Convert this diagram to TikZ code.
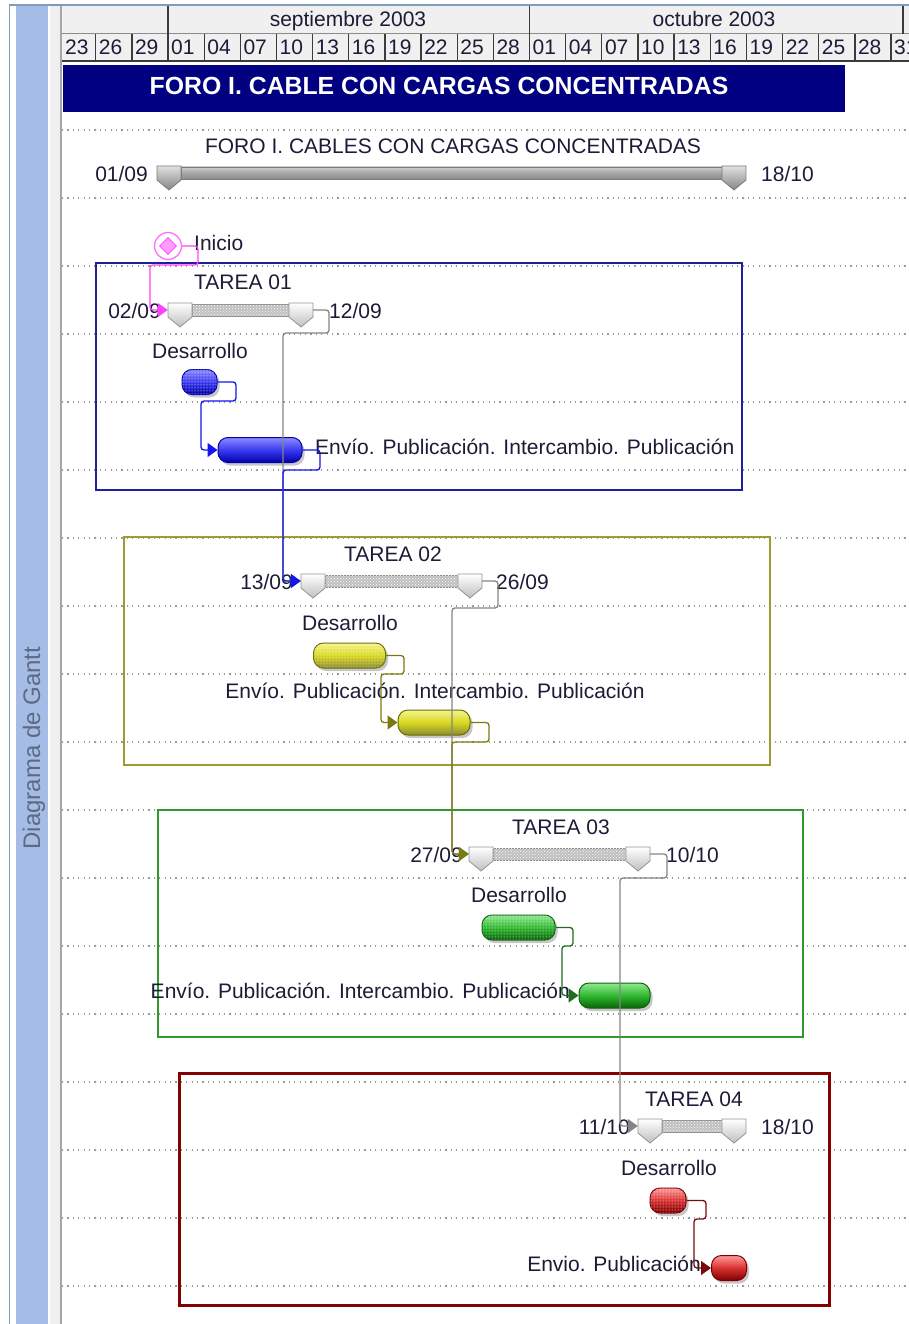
\documentclass[tikz,border=0pt]{standalone}
\usepackage{fontspec}
\setmainfont{Liberation Sans}
\usetikzlibrary{arrows.meta,shapes.geometric,patterns,shadows,fit}

% palette
\definecolor{ink}{HTML}{1C1C38}
\definecolor{frameblue}{HTML}{7F9DB9}
\definecolor{stripblue}{HTML}{A5BDE6}
\definecolor{panelgrey}{HTML}{EFEFEF}
\definecolor{hdrgrey}{HTML}{F0F0F0}
\definecolor{hdrline}{HTML}{3C3C3C}
\definecolor{navyband}{HTML}{000080}
\definecolor{dotgrey}{HTML}{9A9A9A}
\definecolor{linkgrey}{HTML}{858585}
\definecolor{vtitle}{HTML}{5C6B82}
\definecolor{capedge}{HTML}{7A7A7A}
\definecolor{bluedark}{HTML}{0000A8}
\definecolor{bluemid}{HTML}{3A3AF0}
\definecolor{bluelight}{HTML}{8C8CFF}
\definecolor{bluelink}{HTML}{1414F0}
\definecolor{blueframe}{HTML}{20209C}
\definecolor{yeldark}{HTML}{6E6E00}
\definecolor{yelmid}{HTML}{D8D820}
\definecolor{yellight}{HTML}{F4F490}
\definecolor{yellink}{HTML}{7A7A10}
\definecolor{yelframe}{HTML}{9C9C30}
\definecolor{grndark}{HTML}{0A640A}
\definecolor{grnmid}{HTML}{30B830}
\definecolor{grnlight}{HTML}{90E890}
\definecolor{grnlink}{HTML}{1E6E1E}
\definecolor{grnframe}{HTML}{2E9A2E}
\definecolor{reddark}{HTML}{7A0000}
\definecolor{redmid}{HTML}{D83030}
\definecolor{redlight}{HTML}{FF9A9A}
\definecolor{redlink}{HTML}{7A0A0A}
\definecolor{redframe}{HTML}{850000}
\definecolor{pinkline}{HTML}{FF40FF}
\definecolor{pinkfill}{HTML}{FF9CFF}

\tikzset{
  lbl/.style={font=\fontsize{21}{24}\selectfont, text=ink, inner sep=0pt, text height=15pt, text depth=0pt},
  rowline/.style={dotgrey, line width=1.2pt, dash pattern=on 1.2pt off 4.2pt},
  groupbox/.style={line width=1.6pt},
  gbar/.style={rounded corners=10pt, minimum height=25pt, inner sep=0pt, line width=1pt,
    drop shadow={shadow xshift=2.5pt, shadow yshift=-3pt, fill=black!40, opacity=0.55}},
  dotfill/.style={postaction={pattern=dots, pattern color=white}},
  bluebar/.style={draw=bluedark, top color=bluelight, bottom color=bluedark, middle color=bluemid},
  yelbar/.style={draw=yeldark, top color=yellight, bottom color=yeldark!80, middle color=yelmid},
  grnbar/.style={draw=grndark, top color=grnlight, bottom color=grndark, middle color=grnmid},
  redbar/.style={draw=reddark, top color=redlight, bottom color=reddark, middle color=redmid},
  conn/.style={line width=1.3pt, rounded corners=3pt, -{Triangle[length=10pt,width=14pt]}},
  sumcap/.style={draw=capedge, line width=0.8pt, top color=black!12, bottom color=black!48},
  sumbar/.style={draw=capedge, line width=0.8pt, top color=black!20, bottom color=black!45, middle color=black!35},
  taskcap/.style={draw=black!42, line width=0.8pt, top color=white, bottom color=black!25},
  taskbar/.style={draw=black!45, line width=0.8pt, fill=black!25, postaction={pattern=crosshatch dots, pattern color=white}},
}

% a span bar: name, start x, end x, row centre y, cap style, bar style
\newcommand\ganttspan[6]{%
  \path[#6] (#2+12,#4-6) rectangle (#3-12,#4+6);
  \path[#5] (#2-12,#4-7) -- (#2+12,#4-7) -- (#2+12,#4+7) -- (#2,#4+17) -- (#2-12,#4+7) -- cycle;
  \path[#5] (#3-12,#4-7) -- (#3+12,#4-7) -- (#3+12,#4+7) -- (#3,#4+17) -- (#3-12,#4+7) -- cycle;
  \node[inner sep=0pt, fit={(#2-12,#4-7) (#3+12,#4+7)}] (#1) {};
}

\begin{document}
\begin{tikzpicture}[x=1pt,y=-1pt]
\useasboundingbox (0,0) rectangle (909,1324);
\fill[white] (0,0) rectangle (909,1324);

% side panel
\fill[stripblue] (16,6) rectangle (48,1324);
\fill[panelgrey] (50,6) rectangle (60,1324);
\draw[frameblue, line width=1.5pt] (9.5,1324) -- (9.5,5) -- (909,5);
\draw[black!35, line width=1.8pt] (61,6) -- (61,1324);
\node[rotate=90, font=\fontsize{24}{28}\selectfont, text=vtitle] (side) at (34,748) {Diagrama de Gantt};

% time scale header (the last day column runs past the right edge)
\begin{scope}
\clip (62,6) rectangle (909,62);
\fill[hdrgrey] (62,6) rectangle (909,61);
\draw[black!45, line width=1pt] (62,33.5) -- (909,33.5);
\draw[hdrline, line width=1.6pt] (62,61) -- (909,61);
\foreach \x in {168,529.5,903} \draw[hdrline, line width=1.3pt] (\x,6) -- (\x,34);
\node[lbl] (msep) at (348,19.5) {septiembre 2003};
\node[lbl] (moct) at (714,19.5) {octubre 2003};
\foreach \dayno [count=\i from 0] in {23,26,29,01,04,07,10,13,16,19,22,25,28,01,04,07,10,13,16,19,22,25,28,31} {
  \pgfmathsetmacro\cx{168+(\i-3)*36.15}
  \pgfmathsetmacro\tx{max(\cx,62)+3}
  \ifnum\i>0 \draw[hdrline, line width=1.3pt] (\cx,34) -- (\cx,61); \fi
  \node[lbl, anchor=west] (day\i) at (\tx,47.5) {\dayno};
}
\end{scope}

% title band
\fill[navyband] (63,65) rectangle (845,112);
\node[font=\fontsize{24.8}{28}\selectfont\bfseries, text=white, inner sep=0pt] (title) at (439,86) {FORO I. CABLE CON CARGAS CONCENTRADAS};

% row separators
\foreach \y in {130,198,...,1286} \draw[rowline] (62,\y) -- (909,\y);

% task groups
\draw[groupbox, blueframe] (96,263) rectangle (742,490);
\draw[groupbox, yelframe] (124,537) rectangle (770,765);
\draw[groupbox, grnframe] (158,810) rectangle (803,1037);
\draw[redframe, line width=3pt] (179,1073) rectangle (829,1305);

% project summary
\node[lbl] (sumtitle) at (453,146) {FORO I. CABLES CON CARGAS CONCENTRADAS};
\ganttspan{s0}{169}{734}{173}{sumcap}{sumbar}
\node[lbl, anchor=east] (s0a) at (148,174) {01/09};
\node[lbl, anchor=west] (s0b) at (761,174) {18/10};

% start milestone
\node[circle, draw=pinkline!75, line width=1.3pt, minimum size=27pt, inner sep=0pt] (ini) at (168,246) {};
\node[diamond, draw=pinkline, fill=pinkfill, line width=0.8pt, minimum size=17pt, inner sep=0pt] (inid) at (168,246) {};
\node[lbl, anchor=west] (inilbl) at (194,243) {Inicio};

% TAREA 01
\node[lbl] (t1) at (243,282) {TAREA 01};
\ganttspan{s1}{180}{301}{310}{taskcap}{taskbar}
\node[lbl, anchor=east] (s1a) at (161,311) {02/09};
\node[lbl, anchor=west] (s1b) at (329,311) {12/09};
\node[lbl] (d1l) at (200,351) {Desarrollo};
\node[gbar, bluebar, dotfill, minimum width=35pt] (d1) at (199.5,382) {};
\node[gbar, bluebar, minimum width=84pt] (e1) at (260,450) {};
\node[lbl, anchor=west] (e1l) at (315,447) {Envío. Publicación. Intercambio. Publicación};

% TAREA 02
\node[lbl] (t2) at (393,554) {TAREA 02};
\ganttspan{s2}{313}{470}{581}{taskcap}{taskbar}
\node[lbl, anchor=east] (s2a) at (293,582) {13/09};
\node[lbl, anchor=west] (s2b) at (496,582) {26/09};
\node[lbl] (d2l) at (350,623) {Desarrollo};
\node[gbar, yelbar, dotfill, minimum width=72pt] (d2) at (349.5,655.5) {};
\node[lbl] (e2l) at (435,691) {Envío. Publicación. Intercambio. Publicación};
\node[gbar, yelbar, minimum width=72pt] (e2) at (434,722.5) {};

% TAREA 03
\node[lbl] (t3) at (561,827) {TAREA 03};
\ganttspan{s3}{481}{638}{854}{taskcap}{taskbar}
\node[lbl, anchor=east] (s3a) at (463,855) {27/09};
\node[lbl, anchor=west] (s3b) at (666,855) {10/10};
\node[lbl] (d3l) at (519,895) {Desarrollo};
\node[gbar, grnbar, dotfill, minimum width=73pt] (d3) at (518.5,927.5) {};
\node[gbar, grnbar, minimum width=71pt] (e3) at (614.5,995.5) {};
\node[lbl, anchor=east] (e3l) at (570,991) {Envío. Publicación. Intercambio. Publicación};

% TAREA 04
\node[lbl] (t4) at (694,1099) {TAREA 04};
\ganttspan{s4}{650}{734}{1126}{taskcap}{taskbar}
\node[lbl, anchor=east] (s4a) at (630,1127) {11/10};
\node[lbl, anchor=west] (s4b) at (761,1127) {18/10};
\node[lbl] (d4l) at (669,1168) {Desarrollo};
\node[gbar, redbar, dotfill, minimum width=36pt] (d4) at (668,1200.5) {};
\node[gbar, redbar, minimum width=35pt] (e4) at (729,1268) {};
\node[lbl, anchor=east] (e4l) at (701,1264) {Envio. Publicación};

% dependencies
\draw[conn, pinkline] (ini.east) -- (198,246) -- (198,265) -- (150,265) -- (150,310) -- (s1.west);
\draw[conn, linkgrey] (s1.east) -- (329,310) -- (329,333) -- (283,333) -- (283,581) -- (s2.west);
\draw[conn, bluelink] (d1.east) -- (236,382) -- (236,401) -- (201,401) -- (201,450) -- (e1.west);
\draw[conn, bluelink] (e1.east) -- (320,450) -- (320,470) -- (283,470) -- (283,581) -- (s2.west);
\draw[conn, linkgrey] (s2.east) -- (498,581) -- (498,608) -- (452,608) -- (452,854) -- (s3.west);
\draw[conn, yellink] (d2.east) -- (404,655.5) -- (404,674) -- (381,674) -- (381,722.5) -- (e2.west);
\draw[conn, yellink] (e2.east) -- (489,722.5) -- (489,742) -- (452,742) -- (452,854) -- (s3.west);
\draw[conn, linkgrey] (s3.east) -- (667,854) -- (667,878) -- (620,878) -- (620,1126) -- (s4.west);
\draw[conn, grnlink] (d3.east) -- (573,927.5) -- (573,946) -- (562,946) -- (562,995.5) -- (e3.west);
\draw[conn, redlink] (d4.east) -- (706,1200.5) -- (706,1219) -- (694,1219) -- (694,1268) -- (e4.west);
\end{tikzpicture}
\end{document}
